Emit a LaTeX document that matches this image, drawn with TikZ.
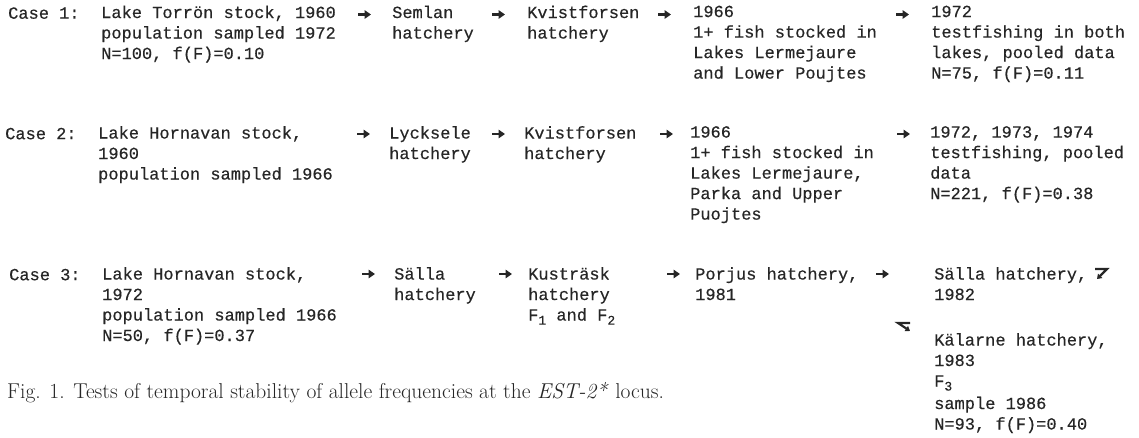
\documentclass[tikz,border=0pt]{standalone}
\usepackage{fontspec}
\newfontfamily\mono{Liberation Mono}[FakeBold=0.4]
\usetikzlibrary{arrows.meta}
\newcommand\lsub[1]{\raisebox{-4pt}{\fontsize{13}{13}\selectfont #1}}
\newcommand\flowarrow[3]{%
  \coordinate (#1s) at (#2,#3);
  \coordinate (#1e) at ({#2+13},#3);
  \draw[arr] (#1s) -- (#1e);}
\tikzset{
  mt/.style={font=\mono\fontsize{17}{20.5}\selectfont, inner sep=0pt,
    anchor=north west, align=left, text=black!85,
    execute at begin node={\rule{0pt}{13pt}}},
  arr/.style={-{Triangle[length=6.5pt,width=8.5pt]}, line width=2.4pt, draw=black!85},
  bent/.style={-{Triangle[length=4.5pt,width=6pt]}, line width=2.2pt, draw=black!85},
  captxt/.style={font=\fontsize{21.5}{24}\selectfont, inner sep=0pt, anchor=base west, text=black!85}
}
\begin{document}
\begin{tikzpicture}[x=1pt,y=-1pt]
\useasboundingbox (0,0) rectangle (1139,437);
% Case 1
\node[mt] (c1) at (8,5.5) {Case 1:};
\node[mt] (c1a) at (101,5.5) {Lake Torrön stock, 1960\\population sampled 1972\\N=100, f(F)=0.10};
\node[mt] (c1b) at (392,5.5) {Semlan\\hatchery};
\node[mt] (c1c) at (527,5.5) {Kvistforsen\\hatchery};
\node[mt] (c1d) at (693,5.5) {1966\\1+ fish stocked in\\Lakes Lermejaure\\and Lower Poujtes};
\node[mt] (c1e) at (931,5.5) {1972\\testfishing in both\\lakes, pooled data\\N=75, f(F)=0.11};
\flowarrow{a11}{358}{14.5}
\flowarrow{a12}{492}{14.5}
\flowarrow{a13}{658}{14.5}
\flowarrow{a14}{896}{14.5}
% Case 2
\node[mt] (c2) at (5,126) {Case 2:};
\node[mt] (c2a) at (98,126) {Lake Hornavan stock,\\1960\\population sampled 1966};
\node[mt] (c2b) at (389,126) {Lycksele\\hatchery};
\node[mt] (c2c) at (524,126) {Kvistforsen\\hatchery};
\node[mt] (c2d) at (690,126) {1966\\1+ fish stocked in\\Lakes Lermejaure,\\Parka and Upper\\Puojtes};
\node[mt] (c2e) at (930,126) {1972, 1973, 1974\\testfishing, pooled\\data\\N=221, f(F)=0.38};
\flowarrow{a21}{357}{134}
\flowarrow{a22}{492}{134}
\flowarrow{a23}{660}{134}
\flowarrow{a24}{897}{134}
% Case 3
\node[mt] (c3) at (9,267) {Case 3:};
\node[mt] (c3a) at (102,267) {Lake Hornavan stock,\\1972\\population sampled 1966\\N=50, f(F)=0.37};
\node[mt] (c3b) at (394,267) {Sälla\\hatchery};
\node[mt] (c3c) at (528,267) {Kusträsk\\hatchery\\F\lsub{1} and F\lsub{2}};
\node[mt] (c3d) at (695,267) {Porjus hatchery,\\1981};
\node[mt] (c3e) at (934,267) {Sälla hatchery,\\1982};
\node[mt] (c3f) at (934,333) {Kälarne hatchery,\\1983\\F\lsub{3}\\[2pt]sample 1986\\N=93, f(F)=0.40};
\flowarrow{a31}{362}{274}
\flowarrow{a32}{499}{274}
\flowarrow{a33}{667}{274}
\flowarrow{a34}{876}{274}
% bent arrows
\coordinate (b1s) at (1095,269);
\coordinate (b1m) at (1107,269);
\coordinate (b1e) at (1097,279);
\draw[bent] (b1s) -- (b1m) -- (b1e);
\coordinate (b2s) at (910,323);
\coordinate (b2m) at (898,323);
\coordinate (b2e) at (910,331);
\draw[bent] (b2s) -- (b2m) -- (b2e);
% caption
\node[captxt] (fig) at (7,398) {Fig. 1. Tests of temporal stability of allele frequencies at the \textit{EST-2*} locus.};
\end{tikzpicture}
\end{document}
